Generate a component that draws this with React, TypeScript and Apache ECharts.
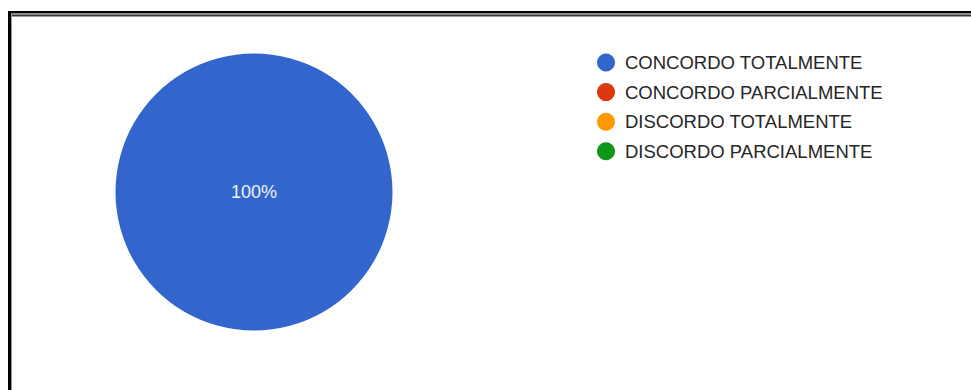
import React, { useEffect, useRef } from "react";
import * as echarts from "echarts";

const categories = [
  "CONCORDO TOTALMENTE",
  "CONCORDO PARCIALMENTE",
  "DISCORDO TOTALMENTE",
  "DISCORDO PARCIALMENTE",
];
const values = [100, 0, 0, 0];
const colors = ["#3366cc", "#dc3912", "#ff9900", "#109618"];

export default function App() {
  const ref = useRef<HTMLDivElement>(null);
  useEffect(() => {
    if (!ref.current) return;
    const chart = echarts.init(ref.current, undefined, { renderer: "svg" });
    chart.setOption({
      animation: false,
      backgroundColor: "#ffffff",
      color: colors,
      legend: {
        orient: "vertical",
        left: 592,
        top: 48,
        icon: "circle",
        itemWidth: 28,
        itemHeight: 18,
        itemGap: 10.6,
        textStyle: {
          fontFamily: "Liberation Sans, Arial, sans-serif",
          fontSize: 18.5,
          lineHeight: 18,
          color: "#262626",
        },
        data: categories,
      },
      graphic: [
        { type: "rect", shape: { x: 8, y: 11, width: 970, height: 2 }, style: { fill: "#000" } },
        { type: "rect", shape: { x: 8, y: 13, width: 970, height: 2 }, style: { fill: "#8a8a8a" } },
        { type: "rect", shape: { x: 11, y: 15, width: 970, height: 1.5 }, style: { fill: "#333" } },
        { type: "rect", shape: { x: 8, y: 11, width: 3, height: 390 }, style: { fill: "#000" } },
        { type: "rect", shape: { x: 11, y: 15, width: 1, height: 390 }, style: { fill: "#999" } },
      ],
      series: [
        {
          type: "pie",
          center: [254, 192],
          radius: 138.5,
          startAngle: 90,
          avoidLabelOverlap: false,
          label: {
            show: true,
            position: "center",
            fontFamily: "Liberation Sans, Arial, sans-serif",
            fontSize: 18,
            color: "#eef2fa",
            formatter: (p: any) => (p.value > 0 ? `${Math.round(p.percent)}%` : ""),
          },
          labelLine: { show: false },
          itemStyle: { borderWidth: 0 },
          emphasis: { disabled: true },
          data: categories.map((name, i) => ({ name, value: values[i] })),
        },
      ],
    });
    return () => chart.dispose();
  }, []);
  return (
    <div
      ref={ref}
      style={{ position: "fixed", left: 0, top: 0, width: 971, height: 390 }}
    />
  );
}
